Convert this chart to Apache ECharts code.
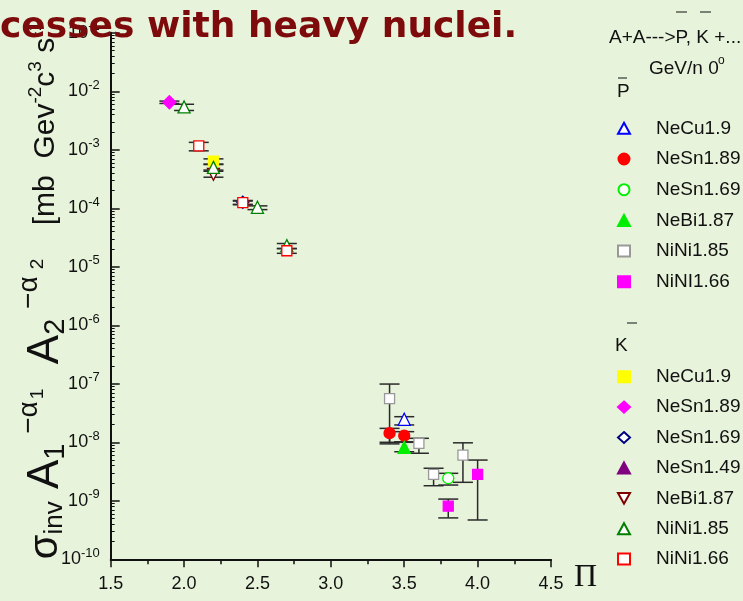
<!DOCTYPE html>
<html><head><meta charset="utf-8">
<script src="https://cdn.jsdelivr.net/npm/echarts@6/dist/echarts.min.js"></script>
<style>html,body{margin:0;padding:0;background:#e8f3db;}#c{width:743px;height:601px;}</style>
</head><body><div id="c"></div>
<script>
// ---- data: [x, y, errLow, errHigh] ----
// anti-protons (P bar)
const pNeCu19  = [[3.5, 2.47e-8, 1.98e-8, 2.74e-8]];
const pNeSn189 = [[3.4, 1.43e-8, 1.0e-8, 1.73e-8], [3.5, 1.30e-8, 1.02e-8, 1.52e-8]];
const pNeSn169 = [[3.8, 2.43e-9, 1.86e-9, 2.95e-9]];
const pNeBi187 = [[3.5, 8.2e-9, 6.9e-9, 1.0e-8]];
const pNiNi185 = [[3.4, 5.6e-8, 9.4e-9, 9.9e-8], [3.6, 9.6e-9, 6.5e-9, 1.17e-8], [3.7, 2.84e-9, 1.81e-9, 3.6e-9], [3.9, 6.06e-9, 2.07e-9, 9.8e-9]];
const pNiNi166 = [[3.8, 8.1e-10, 5.1e-10, 1.07e-9], [4.0, 2.84e-9, 4.7e-10, 4.97e-9]];
// anti-kaons (K bar)
const kNeCu19  = [[2.2, 6.4e-4, 5.7e-4, 7.0e-4]];
const kNeSn189 = [[1.9, 6.5e-3, 6.2e-3, 6.8e-3]];
const kNeSn169 = [[2.4, 1.27e-4, 1.17e-4, 1.36e-4]];
const kNeSn149 = [];
const kNeBi187 = [[2.2, 3.8e-4, 3.4e-4, 4.3e-4]];
const kNiNi185 = [[2.0, 5.4e-3, 4.7e-3, 6.0e-3], [2.2, 5.0e-4, 4.5e-4, 5.6e-4], [2.5, 1.04e-4, 9.5e-5, 1.1e-4], [2.7, 2.3e-5, 2.05e-5, 2.5e-5]];
const kNiNi166 = [[2.1, 1.17e-3, 9.6e-4, 1.34e-3], [2.4, 1.25e-4, 1.15e-4, 1.33e-4], [2.7, 1.88e-5, 1.7e-5, 2.05e-5]];

const xTicks = [1.5, 2.0, 2.5, 3.0, 3.5, 4.0, 4.5];
const yMin = 1e-10, yMax = 1e-1;

const FONT = '"Liberation Sans", Arial, sans-serif';
const DOWN_TRI = 'path://M0,0 L10,0 L5,9 Z';

// [key, data, symbol, fill, border, size, rotate]
const pSeries = [
  ['P NeCu1.9',  pNeCu19,  'triangle', '#ffffff', '#0000ff', 12, 0],
  ['P NeSn1.89', pNeSn189, 'circle',   '#ff0000', '#ff0000', 11, 0],
  ['P NeSn1.69', pNeSn169, 'circle',   '#ffffff', '#00ee00', 11, 0],
  ['P NeBi1.87', pNeBi187, 'triangle', '#00ee00', '#00ee00', 12, 0],
  ['P NiNi1.85', pNiNi185, 'rect',     '#ffffff', '#999999', 10, 0],
  ['P NiNI1.66', pNiNi166, 'rect',     '#ff00ff', '#ff00ff', 10, 0]
];
const kSeries = [
  ['K NeCu1.9',  kNeCu19,  'rect',     '#ffff00', '#ffff00', 10, 0],
  ['K NeSn1.89', kNeSn189, 'diamond',  '#ff00ff', '#ff00ff', 13, 0],
  ['K NeSn1.69', kNeSn169, 'diamond',  '#ffffff', '#000080', 12, 0],
  ['K NeSn1.49', kNeSn149, 'triangle', '#800080', '#800080', 12, 0],
  ['K NeBi1.87', kNeBi187, DOWN_TRI,   '#ffffff', '#800000', 12, 0],
  ['K NiNi1.85', kNiNi185, 'triangle', '#ffffff', '#008000', 12, 0],
  ['K NiNi1.66', kNiNi166, 'rect',     '#ffffff', '#ff0000', 10, 0]
];

const allSeries = pSeries.concat(kSeries);
const errData = [];
allSeries.forEach(s => s[1].forEach(d => errData.push([d[0], d[2], d[3]])));

const series = [{
  type: 'custom', name: 'err', z: 1, silent: true,
  encode: {x: 0, y: [1, 2]},
  data: errData,
  renderItem: function (params, api) {
    const x = api.value(0);
    const lo = api.coord([x, api.value(1)]);
    const hi = api.coord([x, api.value(2)]);
    const w = 10;
    const st = {stroke: '#2a2a2a', lineWidth: 1.5};
    return {type: 'group', children: [
      {type: 'line', shape: {x1: lo[0], y1: lo[1], x2: hi[0], y2: hi[1]}, style: st},
      {type: 'line', shape: {x1: lo[0] - w, y1: lo[1], x2: lo[0] + w, y2: lo[1]}, style: st},
      {type: 'line', shape: {x1: hi[0] - w, y1: hi[1], x2: hi[0] + w, y2: hi[1]}, style: st}
    ]};
  }
}];
allSeries.forEach(s => {
  series.push({
    type: 'scatter', name: s[0], z: 3,
    data: s[1].map(d => [d[0], d[1]]),
    symbol: s[2], symbolSize: s[5], symbolRotate: s[6],
    itemStyle: {color: s[3], borderColor: s[4], borderWidth: 1.3, opacity: 1},
    emphasis: {disabled: true}
  });
});

const legendCommon = {
  orient: 'vertical', left: 617, padding: 0, itemWidth: 12, itemHeight: 11,
  selectedMode: false,
  formatter: n => n.slice(2),
  textStyle: {fontFamily: FONT, fontSize: 19, color: '#111', lineHeight: 20, padding: [0, 0, 0, 21]}
};
const legendItems = arr => arr.map(s => (typeof s[2] === 'string' && s[2].indexOf('path://') === 0) ? {name: s[0], icon: s[2]} : {name: s[0]});

const chart = echarts.init(document.getElementById('c'), null, {renderer: 'canvas'});
chart.setOption({
  backgroundColor: '#e8f3db',
  animation: false,
  grid: {left: 110.7, right: 192, top: 32.8, bottom: 41.7},
  xAxis: {
    type: 'value', min: 1.5, max: 4.5, interval: 0.5,
    name: 'Π', nameLocation: 'end', nameGap: 23,
    nameTextStyle: {fontFamily: '"Liberation Serif", "Times New Roman", serif', fontSize: 32, color: '#111', verticalAlign: 'top', padding: [2, 0, 0, 0]},
    axisLine: {lineStyle: {color: '#111', width: 2}},
    axisTick: {length: 8, lineStyle: {color: '#111', width: 1.5}},
    minorTick: {show: true, splitNumber: 2, length: 5, lineStyle: {color: '#111', width: 1.5}},
    splitLine: {show: false},
    axisLabel: {margin: 16, fontFamily: FONT, fontSize: 18, color: '#111',
      formatter: v => xTicks.includes(v) ? v.toFixed(1) : ''}
  },
  yAxis: {
    type: 'log', logBase: 10, min: yMin, max: yMax, interval: 1,
    axisLine: {lineStyle: {color: '#111', width: 2}},
    axisTick: {inside: true, length: 9, lineStyle: {color: '#111', width: 1.5}},
    minorTick: {show: true, splitNumber: 9, length: 4, lineStyle: {color: '#111', width: 1}},
    splitLine: {show: false},
    axisLabel: {
      margin: 11, fontFamily: FONT, color: '#111',
      formatter: v => '{a|10}{b|' + Math.round(Math.log10(v)) + '}',
      rich: {a: {fontSize: 18, fontFamily: FONT, color: '#111'},
             b: {fontSize: 13, fontFamily: FONT, color: '#111', padding: [0, 0, 12, 0]}}
    }
  },
  legend: [
    Object.assign({}, legendCommon, {top: 118.3, itemGap: 10.7, data: legendItems(pSeries)}),
    Object.assign({}, legendCommon, {top: 366.7, itemGap: 10.4, data: legendItems(kSeries)})
  ],
  graphic: [
    {type: 'text', left: 0, top: 10, z: 100, style: {text: 'cesses with heavy nuclei.', fill: '#7d0b0b',
      font: 'bold 36px "Comic Sans MS", "DejaVu Sans", sans-serif'}},
    // y axis title (rotated)
    {type: 'text', x: 46, y: 290, rotation: Math.PI / 2, z: 50, style: {
      text: '{sig|σ}{inv|inv}{big| A}{sub|1}{sup| −α}{ssub|1}{big|  A}{sub|2}{sup| −α}{ssub| 2}{mid|    [mb  Gev}{msup|-2}{mid|c}{msup|3}{mid| s}{msup|-1}',
      align: 'center', verticalAlign: 'middle',
      rich: {
        sig: {fontFamily: FONT, fontSize: 40, fill: '#111'},
        inv: {fontFamily: FONT, fontSize: 26, fill: '#111', padding: [18, 0, 0, 0]},
        big: {fontFamily: FONT, fontSize: 44, fill: '#111'},
        sub: {fontFamily: FONT, fontSize: 29, fill: '#111', padding: [20, 0, 0, 0]},
        sup: {fontFamily: FONT, fontSize: 28, fill: '#111', padding: [0, 2, 34, 2]},
        ssub: {fontFamily: FONT, fontSize: 19, fill: '#111', padding: [0, 0, 16, 0]},
        mid: {fontFamily: FONT, fontSize: 30, fill: '#111'},
        msup: {fontFamily: FONT, fontSize: 19, fill: '#111', padding: [0, 0, 20, 0]}
      }
    }},
    // legend header
    {type: 'text', left: 609, top: 28, style: {text: 'A+A--->P, K +...', font: '19px ' + FONT, fill: '#111'}},
    {type: 'line', shape: {x1: 676, y1: 12, x2: 687, y2: 12}, style: {stroke: '#111', lineWidth: 1}},
    {type: 'line', shape: {x1: 700, y1: 12, x2: 711, y2: 12}, style: {stroke: '#111', lineWidth: 1}},
    {type: 'text', left: 649, top: 59, style: {text: 'GeV/n 0', font: '19px ' + FONT, fill: '#111'}},
    {type: 'text', left: 718, top: 55, style: {text: 'o', font: '12px ' + FONT, fill: '#111'}},
    {type: 'text', left: 617, top: 82, style: {text: 'P', font: '19px ' + FONT, fill: '#111'}},
    {type: 'line', shape: {x1: 618, y1: 78, x2: 627, y2: 78}, style: {stroke: '#111', lineWidth: 1}},
    {type: 'text', left: 615, top: 336, style: {text: 'K', font: '19px ' + FONT, fill: '#111'}},
    {type: 'line', shape: {x1: 627, y1: 323, x2: 637, y2: 323}, style: {stroke: '#111', lineWidth: 1}}
  ],
  series: series
});
</script></body></html>
